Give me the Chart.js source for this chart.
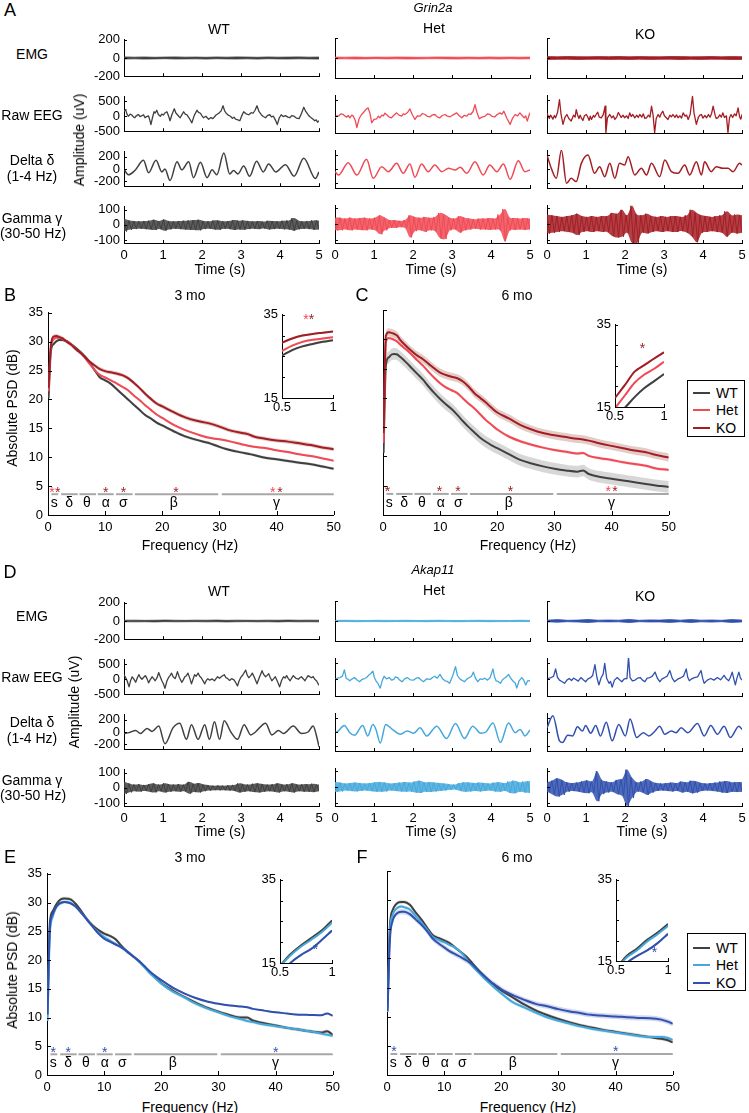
<!DOCTYPE html>
<html><head><meta charset="utf-8">
<script src="https://cdn.jsdelivr.net/npm/chart.js@4.4.1/dist/chart.umd.min.js"></script>
<style>
body{margin:0;background:#fff;}
#fig{position:relative;width:749px;height:1113px;overflow:hidden;background:#fff;font-family:"Liberation Sans",Arial,sans-serif;color:#000;}
.t{position:absolute;transform:translate(-50%,-50%);white-space:nowrap;line-height:1;}
canvas{position:absolute;}
.lg{position:absolute;border:1px solid #000;background:#fff;box-sizing:border-box;}
.lg .ln{position:absolute;height:2px;width:17px;}
.lg .tx{position:absolute;font-size:14px;line-height:1;transform:translateY(-50%);}
</style></head><body><div id="fig"></div><script>
// ===================== DATA =====================
const traceTicksX = [0,1,2,3,4,5];
const emgTicks = [-200,0,200];
const eegTicks = [-500,0,500];
const deltaTicks = [-200,0,200];
const gammaTicks = [-100,0,100];

// Grin2a raw EEG [t s, uV]
const grinWT_eeg = [[0,150],[0.03,220],[0.05,180],[0.08,60],[0.11,0],[0.14,40],[0.16,70],[0.2,40],[0.24,-20],[0.28,-50],[0.31,10],[0.33,30],[0.37,60],[0.41,-10],[0.45,10],[0.5,50],[0.54,-50],[0.58,-10],[0.63,10],[0.66,-120],[0.69,-280],[0.73,-50],[0.77,150],[0.8,110],[0.84,200],[0.88,60],[0.93,0],[0.97,70],[1.01,40],[1.05,110],[1.1,150],[1.14,20],[1.18,-150],[1.23,60],[1.29,250],[1.33,110],[1.37,50],[1.41,-10],[1.44,-50],[1.49,60],[1.53,150],[1.57,70],[1.61,50],[1.67,-60],[1.74,-220],[1.8,20],[1.87,200],[1.91,130],[1.96,100],[2.0,10],[2.04,-50],[2.1,0],[2.14,-60],[2.17,-100],[2.23,-40],[2.27,-80],[2.3,-50],[2.36,40],[2.43,100],[2.49,180],[2.54,350],[2.58,180],[2.62,100],[2.67,40],[2.73,0],[2.78,-70],[2.82,-30],[2.86,-100],[2.92,-120],[2.97,-150],[3.02,20],[3.07,150],[3.13,80],[3.2,50],[3.26,120],[3.31,100],[3.36,200],[3.41,350],[3.46,160],[3.52,50],[3.57,-10],[3.63,-50],[3.68,30],[3.74,50],[3.78,-20],[3.83,0],[3.88,-120],[3.93,-280],[3.98,-60],[4.03,50],[4.08,-10],[4.14,20],[4.2,-30],[4.25,-50],[4.3,20],[4.36,0],[4.42,-60],[4.49,-80],[4.55,90],[4.61,300],[4.66,160],[4.72,50],[4.76,-10],[4.8,-50],[4.85,-100],[4.89,-150],[4.93,-120],[4.96,-200],[5,-150]];
const grinHet_eeg = [[0,-40],[0.04,20],[0.1,20],[0.15,80],[0.21,60],[0.26,10],[0.3,-20],[0.34,30],[0.38,-40],[0.43,40],[0.47,10],[0.52,-120],[0.56,-340],[0.62,-60],[0.68,60],[0.73,120],[0.79,210],[0.85,260],[0.9,80],[0.94,-190],[1.0,-90],[1.07,-70],[1.11,10],[1.15,-40],[1.2,40],[1.24,20],[1.28,100],[1.32,60],[1.38,-10],[1.45,-40],[1.51,40],[1.58,110],[1.64,40],[1.71,10],[1.75,80],[1.79,60],[1.86,120],[1.92,230],[1.98,60],[2.05,-90],[2.11,20],[2.18,10],[2.24,90],[2.31,60],[2.37,0],[2.44,-10],[2.5,50],[2.56,60],[2.63,-20],[2.69,-40],[2.75,30],[2.82,60],[2.88,10],[2.95,-10],[3.03,50],[3.12,110],[3.18,30],[3.25,-40],[3.31,30],[3.38,10],[3.43,80],[3.48,60],[3.54,150],[3.59,360],[3.64,120],[3.7,-70],[3.77,-20],[3.85,10],[3.91,80],[3.97,60],[4.03,0],[4.1,-10],[4.16,60],[4.23,110],[4.28,70],[4.33,160],[4.41,-60],[4.49,-240],[4.55,-60],[4.62,60],[4.68,20],[4.74,110],[4.8,30],[4.85,-40],[4.89,20],[4.93,-140],[4.97,20],[5,110]];
const grinKO_eeg = [[0,110],[0.03,10],[0.06,-60],[0.09,40],[0.11,10],[0.15,-80],[0.19,30],[0.22,-40],[0.27,120],[0.32,510],[0.36,60],[0.41,-240],[0.46,-30],[0.51,60],[0.56,-60],[0.62,-140],[0.68,40],[0.72,-20],[0.75,210],[0.79,20],[0.82,-60],[0.85,40],[0.88,-40],[0.92,-120],[0.96,20],[1.01,60],[1.05,-30],[1.08,-120],[1.11,10],[1.14,-90],[1.19,30],[1.22,-20],[1.26,60],[1.3,130],[1.34,-20],[1.39,-40],[1.44,50],[1.49,310],[1.51,-490],[1.55,-40],[1.61,60],[1.66,-40],[1.7,20],[1.74,-90],[1.79,-10],[1.83,120],[1.86,60],[1.9,-30],[1.95,40],[1.99,-40],[2.04,20],[2.08,-60],[2.12,110],[2.16,0],[2.2,60],[2.25,-40],[2.3,40],[2.34,-30],[2.38,60],[2.43,-20],[2.47,80],[2.51,-60],[2.55,-40],[2.6,40],[2.64,-20],[2.68,310],[2.72,40],[2.76,-490],[2.8,-60],[2.85,60],[2.89,-20],[2.93,90],[2.97,160],[3.01,20],[3.06,-40],[3.1,-90],[3.15,40],[3.19,-10],[3.23,60],[3.28,-30],[3.32,50],[3.36,-40],[3.41,20],[3.45,-50],[3.49,110],[3.54,10],[3.58,40],[3.62,-90],[3.67,60],[3.73,610],[3.77,100],[3.83,-240],[3.88,-30],[3.92,40],[3.96,60],[4.0,-50],[4.05,30],[4.09,-40],[4.14,60],[4.18,-20],[4.22,90],[4.26,310],[4.31,40],[4.34,-60],[4.38,-40],[4.43,50],[4.47,-20],[4.51,110],[4.55,-30],[4.6,20],[4.64,-490],[4.68,-40],[4.72,60],[4.76,-30],[4.81,80],[4.85,20],[4.9,260],[4.94,-20],[4.97,-80],[5,60]];
// Grin2a delta-filtered [t s, uV]
const grinWT_delta = [[0,0],[0.11,-94],[0.28,-24],[0.5,141],[0.63,-61],[0.82,141],[0.97,-47],[1.05,0],[1.18,-188],[1.36,118],[1.48,-14],[1.66,118],[1.78,-141],[1.96,108],[2.13,-141],[2.26,-14],[2.38,-94],[2.56,259],[2.71,-80],[2.81,-24],[2.92,-80],[3.07,47],[3.22,-118],[3.4,127],[3.57,-47],[3.71,80],[3.89,-47],[4.14,71],[4.36,-118],[4.61,174],[4.91,-155],[5,-47]];
const grinHet_delta = [[0,-39],[0.09,-88],[0.34,93],[0.56,-88],[0.81,142],[0.98,-137],[1.2,34],[1.37,-39],[1.58,83],[1.75,-64],[1.92,74],[2.05,-122],[2.22,74],[2.39,-39],[2.56,59],[2.74,-39],[2.91,10],[3.08,-15],[3.21,25],[3.38,-64],[3.59,108],[3.8,-88],[3.97,59],[4.15,-39],[4.32,74],[4.49,-152],[4.7,122],[4.87,-39],[5,-15]];
const grinKO_delta = [[0,206],[0.11,10],[0.24,-137],[0.37,279],[0.5,-211],[0.62,-137],[0.75,-186],[0.88,83],[1.05,206],[1.22,-64],[1.35,34],[1.48,-113],[1.61,83],[1.74,-137],[1.86,83],[1.99,59],[2.08,181],[2.25,-88],[2.42,10],[2.55,-88],[2.68,83],[2.89,-113],[3.02,132],[3.19,-39],[3.36,-64],[3.53,59],[3.66,-88],[3.83,108],[3.96,-88],[4.04,108],[4.21,-39],[4.34,34],[4.51,10],[4.64,10],[4.77,-39],[4.94,83],[5,59]];
// Grin2a EMG envelope (upper / lower, uV, evenly spaced over 0-5 s)
const grinWT_emgHi = [12,9,11,8,10,12,9,10,8,11,9,12,10,8,11,9,10,12,9,10];
const grinWT_emgLo = [-11,-9,-12,-10,-8,-11,-10,-9,-12,-8,-10,-11,-9,-12,-8,-10,-11,-9,-10,-12];
const grinHet_emgHi = [9,8,10,7,9,8,10,9,7,8,10,9,8,9,7,10,8,9,8,9];
const grinHet_emgLo = [-9,-8,-10,-9,-7,-9,-8,-10,-9,-8,-7,-9,-10,-8,-9,-8,-10,-7,-9,-8];
const grinKO_emgHi = [14,12,15,13,12,14,13,15,12,14,13,12,15,14,12,13,15,12,14,13];
const grinKO_emgLo = [-14,-13,-12,-15,-13,-12,-14,-13,-15,-12,-14,-13,-12,-15,-13,-14,-12,-13,-15,-14];
// Grin2a gamma envelope (upper / lower peaks, uV, evenly spaced over 0-5 s)
const grinWT_gHi = [40,30,26,24,26,28,34,26,36,26,24,26,28,30,32,34,26,24,30,29,24,26,32,28,30,26,24,26,22,28,26,24,28,30,45,28,24,26,30,28];
const grinWT_gLo = [-44,-32,-28,-26,-28,-30,-34,-28,-38,-30,-26,-28,-30,-32,-34,-36,-28,-26,-30,-32,-26,-28,-34,-30,-32,-28,-26,-28,-24,-30,-28,-26,-29,-31,-38,-29,-26,-28,-32,-30];
const grinHet_gHi = [40,40,35,40,35,38,40,35,40,55,40,25,25,20,25,55,45,40,45,40,45,70,60,40,35,50,40,35,30,35,35,38,35,60,95,40,38,35,38,35];
const grinHet_gLo = [-40,-40,-35,-40,-35,-38,-40,-35,-40,-65,-40,-25,-25,-20,-25,-85,-45,-40,-50,-40,-45,-90,-95,-40,-35,-55,-40,-35,-30,-35,-35,-38,-35,-40,-110,-40,-38,-35,-38,-35];
const grinKO_gHi = [60,55,50,45,50,55,65,50,45,50,45,50,50,70,65,90,55,115,60,55,65,50,45,50,45,50,50,45,55,90,70,55,50,45,50,55,80,55,60,55];
const grinKO_gLo = [-60,-55,-50,-45,-50,-55,-70,-50,-45,-50,-45,-50,-50,-75,-85,-80,-55,-120,-120,-55,-60,-50,-45,-50,-45,-50,-50,-45,-55,-80,-115,-55,-50,-45,-50,-55,-80,-55,-60,-55];

// Akap11 raw EEG [t s, uV]
const akapWT_eeg = [[0,153],[0.04,60],[0.08,-51],[0.13,-255],[0.17,-40],[0.21,82],[0.25,10],[0.3,-102],[0.34,40],[0.38,153],[0.42,60],[0.46,0],[0.5,60],[0.55,122],[0.59,20],[0.63,-122],[0.67,-20],[0.72,82],[0.76,20],[0.8,-51],[0.85,60],[0.89,224],[0.93,80],[0.97,-51],[1.01,-150],[1.05,-306],[1.1,-60],[1.14,51],[1.18,120],[1.22,204],[1.26,80],[1.31,20],[1.34,120],[1.37,255],[1.42,60],[1.48,-102],[1.52,-20],[1.56,82],[1.6,120],[1.64,204],[1.69,20],[1.73,-153],[1.77,0],[1.81,153],[1.85,100],[1.9,204],[1.94,100],[1.98,51],[2.02,-40],[2.07,-153],[2.11,-40],[2.15,20],[2.2,-30],[2.26,10],[2.32,-51],[2.36,20],[2.4,82],[2.45,30],[2.5,90],[2.57,153],[2.61,60],[2.66,20],[2.71,-40],[2.76,20],[2.82,-20],[2.86,-100],[2.91,-224],[2.95,-60],[2.99,51],[3.05,150],[3.12,306],[3.16,140],[3.2,51],[3.25,120],[3.29,204],[3.35,40],[3.41,-153],[3.47,60],[3.54,286],[3.58,160],[3.63,82],[3.67,130],[3.71,184],[3.75,60],[3.79,-51],[3.84,20],[3.88,82],[3.93,-60],[3.99,-255],[4.04,-40],[4.09,82],[4.13,40],[4.17,122],[4.21,30],[4.26,-51],[4.3,40],[4.34,122],[4.4,40],[4.47,0],[4.51,50],[4.55,82],[4.6,10],[4.64,-51],[4.68,40],[4.72,122],[4.77,80],[4.81,51],[4.85,90],[4.89,0],[4.94,-60],[5,-204]];
const akapHet_eeg = [[0,0],[0.06,40],[0.13,58],[0.19,100],[0.24,291],[0.29,29],[0.33,10],[0.38,-39],[0.44,20],[0.5,58],[0.56,-10],[0.63,-68],[0.69,0],[0.76,29],[0.81,60],[0.86,126],[0.92,180],[0.97,252],[1.01,60],[1.05,-39],[1.1,-120],[1.16,-262],[1.21,-40],[1.26,97],[1.32,20],[1.39,58],[1.45,-20],[1.51,0],[1.55,80],[1.6,58],[1.66,-20],[1.72,-68],[1.78,10],[1.85,58],[1.93,-10],[2.02,-19],[2.08,40],[2.14,58],[2.2,-10],[2.27,-68],[2.35,20],[2.44,0],[2.5,60],[2.56,97],[2.62,40],[2.69,155],[2.76,20],[2.82,-39],[2.88,-60],[2.94,-116],[3.02,120],[3.09,388],[3.14,120],[3.19,29],[3.25,-20],[3.32,-68],[3.38,10],[3.45,58],[3.5,100],[3.55,223],[3.6,40],[3.66,-68],[3.72,20],[3.78,0],[3.84,40],[3.91,-19],[3.98,60],[4.05,320],[4.09,80],[4.13,-39],[4.18,-60],[4.24,-116],[4.3,0],[4.37,58],[4.41,100],[4.45,155],[4.51,30],[4.58,-68],[4.62,-100],[4.66,-262],[4.72,-40],[4.79,58],[4.84,-20],[4.89,-165],[4.94,-40],[5,-39]];
const akapKO_eeg = [[0,-19],[0.05,40],[0.11,58],[0.17,100],[0.22,320],[0.27,60],[0.32,-19],[0.38,-60],[0.45,-116],[0.51,-20],[0.57,29],[0.63,-30],[0.68,40],[0.74,0],[0.8,-50],[0.87,58],[0.93,-10],[0.99,-68],[1.05,20],[1.12,58],[1.17,120],[1.23,446],[1.28,60],[1.33,-165],[1.39,60],[1.44,160],[1.48,485],[1.53,40],[1.59,-116],[1.63,-60],[1.67,-233],[1.73,-20],[1.8,58],[1.86,-10],[1.92,-68],[1.98,20],[2.05,29],[2.09,679],[2.13,58],[2.19,-40],[2.26,-19],[2.32,40],[2.39,58],[2.45,-20],[2.51,-68],[2.57,40],[2.64,58],[2.7,100],[2.77,223],[2.83,40],[2.89,-68],[2.95,20],[3.02,58],[3.08,100],[3.15,272],[3.21,40],[3.27,-68],[3.35,10],[3.44,58],[3.5,100],[3.57,320],[3.61,60],[3.65,-39],[3.71,20],[3.78,58],[3.86,80],[3.95,272],[3.99,40],[4.03,-116],[4.11,-20],[4.2,29],[4.28,-20],[4.37,58],[4.45,-10],[4.54,126],[4.6,20],[4.66,-39],[4.7,60],[4.75,223],[4.79,20],[4.83,-165],[4.87,40],[4.92,223],[4.96,40],[5,-19]];
// Akap11 delta-filtered [t s, uV]
const akapWT_delta = [[0,-24],[0.13,-10],[0.3,24],[0.42,-24],[0.59,58],[0.72,10],[0.89,96],[1.05,-192],[1.26,72],[1.43,144],[1.6,-120],[1.73,120],[1.9,-120],[2.07,120],[2.19,-120],[2.32,168],[2.45,-120],[2.57,182],[2.74,0],[2.91,-120],[3.08,120],[3.25,-48],[3.37,0],[3.63,144],[3.79,-48],[3.96,24],[4.09,-24],[4.34,96],[4.55,-24],[4.72,0],[4.85,96],[4.93,-48],[5,-240]];
const akapHet_delta = [[0,-10],[0.08,14],[0.24,96],[0.38,-10],[0.5,-48],[0.71,96],[0.84,-58],[0.97,110],[1.05,38],[1.16,-163],[1.3,110],[1.47,38],[1.68,-34],[1.85,14],[2.02,-19],[2.18,62],[2.35,-58],[2.61,86],[2.86,-96],[3.09,125],[3.32,-96],[3.53,86],[3.74,-19],[3.87,0],[4.05,134],[4.24,-154],[4.45,134],[4.62,-10],[4.75,38],[4.87,-58],[5,29]];
const akapKO_delta = [[0,62],[0.15,240],[0.32,-130],[0.4,-154],[0.53,-48],[0.66,-58],[0.78,77],[0.91,14],[0.99,96],[1.12,-19],[1.25,96],[1.37,-58],[1.52,144],[1.67,-130],[1.84,110],[2.01,-58],[2.13,192],[2.3,-82],[2.47,-10],[2.61,-58],[2.77,14],[2.89,86],[3.02,-34],[3.19,14],[3.31,-10],[3.44,62],[3.61,-10],[3.86,125],[4.03,-58],[4.2,96],[4.37,-34],[4.54,86],[4.7,-82],[4.92,86],[5,38]];
// Akap11 EMG envelope
const akapWT_emgHi = [8,9,7,8,10,8,7,9,8,10,7,9,8,7,9,8,10,8,9,8];
const akapWT_emgLo = [-8,-9,-8,-10,-7,-9,-8,-7,-9,-8,-10,-8,-7,-9,-8,-10,-7,-9,-8,-9];
const akapHet_emgHi = [6,7,6,5,7,6,6,7,5,6,7,6,5,6,7,6,6,5,7,6];
const akapHet_emgLo = [-6,-5,-7,-6,-6,-7,-5,-6,-6,-7,-5,-6,-7,-6,-5,-7,-6,-6,-5,-6];
const akapKO_emgHi = [8,14,7,9,15,8,10,8,16,7,11,9,14,8,15,8,10,7,14,9];
const akapKO_emgLo = [-8,-12,-7,-10,-15,-8,-9,-8,-16,-7,-10,-9,-14,-8,-15,-8,-11,-7,-14,-9];
// Akap11 gamma envelope
const akapWT_gHi = [40,30,22,25,20,25,30,22,30,25,22,25,22,40,28,32,22,18,15,16,15,18,20,30,25,22,28,30,25,22,25,30,22,25,30,22,25,25,28,22];
const akapWT_gLo = [-40,-30,-22,-25,-20,-25,-30,-22,-30,-25,-22,-25,-22,-38,-28,-30,-22,-18,-15,-16,-15,-18,-20,-30,-25,-22,-28,-30,-25,-22,-25,-30,-22,-25,-30,-22,-25,-25,-28,-22];
const akapHet_gHi = [32,28,22,25,28,25,22,25,30,32,28,22,25,28,32,28,35,40,30,32,28,25,22,18,16,25,30,28,25,28,25,22,28,30,25,35,40,30,35,38];
const akapHet_gLo = [-32,-28,-22,-25,-28,-25,-22,-25,-30,-30,-28,-22,-25,-28,-30,-28,-35,-38,-30,-32,-28,-25,-22,-18,-16,-25,-30,-28,-25,-28,-25,-22,-28,-30,-25,-38,-40,-30,-35,-38];
const akapKO_gHi = [30,40,55,45,30,25,28,35,42,35,100,45,35,30,45,50,110,60,30,35,50,35,25,22,25,28,25,35,30,40,35,25,22,25,28,35,38,30,32,30];
const akapKO_gLo = [-30,-45,-60,-50,-30,-25,-28,-35,-40,-35,-90,-45,-35,-30,-45,-55,-120,-70,-30,-35,-50,-35,-25,-22,-25,-28,-25,-35,-30,-40,-35,-25,-22,-25,-28,-35,-38,-30,-32,-30];

// PSD spectra (Hz, dB)
const freq = [0.1,0.5,1,1.5,2,2.5,3,4,5,6,7,8,9,10,11,12,13,14,15,16,17,18,19,20,22,24,26,28,30,32,34,35,36,38,40,42,44,46,48,49,50];
const psdTicksX = [0,10,20,30,40,50];
const psdTicksY = [0,5,10,15,20,25,30,35];
const B_WT  = [20.2,28.3,29.6,30.1,30.3,30.3,30.2,29.6,28.8,27.9,26.8,25.3,23.9,23.3,22.7,21.8,20.9,20.0,19.1,18.2,17.3,16.7,16.0,15.5,14.5,13.6,13.0,12.5,11.8,11.2,10.8,10.6,10.4,9.9,9.65,9.35,9.05,8.8,8.4,8.2,8.0];
const B_Het = [21.4,29.0,30.4,30.7,30.7,30.5,30.2,29.6,28.6,27.8,26.5,25.3,24.3,23.8,23.3,22.8,22.2,21.6,20.7,19.9,19.0,18.2,17.4,16.8,15.6,14.7,14.0,13.4,13.1,12.7,12.2,12.0,11.8,11.6,11.2,10.9,10.5,10.2,9.8,9.6,9.4];
const B_KO  = [22.0,29.3,30.9,31.0,30.8,30.6,30.2,29.5,28.6,27.8,26.8,26.0,25.3,24.9,24.7,24.5,24.2,23.7,22.9,22.0,21.0,20.1,19.3,18.8,17.8,16.9,16.3,15.9,15.3,14.6,14.2,14.0,13.6,13.2,12.9,12.7,12.4,12.1,11.7,11.55,11.4];
const C_WT  = [10.6,25.5,26.9,27.4,27.5,27.4,27.0,26.1,25.1,24.1,23.1,21.9,20.8,19.8,18.9,18.1,17.1,16.0,15.0,14.1,13.2,12.5,11.9,11.4,10.4,9.4,8.8,8.3,7.9,7.6,7.4,7.6,7.0,6.5,6.2,5.9,5.6,5.3,5.0,4.9,4.8];
const C_Het = [12.3,29.5,30.2,30.1,29.9,29.6,29.1,28.3,27.4,26.4,25.5,24.4,23.4,22.5,21.8,21.3,20.8,19.9,19.0,18.2,17.2,16.2,15.4,14.6,13.4,12.6,12.0,11.5,11.1,10.8,10.5,10.6,10.1,9.7,9.4,9.0,8.7,8.4,7.9,7.8,7.7];
const C_KO  = [14.0,30.6,31.2,31.1,30.9,30.6,29.9,28.9,28.0,27.2,26.6,25.8,25.0,24.3,23.9,23.6,23.35,22.8,21.9,20.8,20.0,19.2,18.3,17.5,16.5,15.4,14.6,14.0,13.6,13.3,13.0,12.9,12.7,12.2,11.8,11.4,11.0,10.7,10.2,10.0,9.8];
const E_WT  = [11.7,26.5,28.5,29.5,30.2,30.6,30.7,30.6,29.8,28.5,27.1,26.0,25.2,24.6,24.2,23.6,22.5,21.5,20.7,19.9,18.9,17.9,16.9,16.0,14.7,13.6,12.6,11.7,11.0,10.4,10.0,10.0,9.5,9.0,8.6,8.2,7.9,7.6,7.4,7.6,7.0];
const E_Het = [9.4,24.5,27.5,28.9,29.6,29.9,30.1,30.0,29.3,28.2,27.0,25.8,24.8,24.0,23.4,22.8,22.2,21.5,20.7,19.8,18.8,17.7,16.8,15.9,14.5,13.5,12.4,11.6,10.9,10.2,9.7,9.4,9.2,8.8,8.5,8.2,7.9,7.6,7.2,7.0,6.8];
const E_KO  = [10.5,25.5,28.0,29.1,29.7,30.0,30.1,29.9,29.3,28.2,27.0,25.8,24.6,23.7,23.2,22.7,22.2,21.5,20.7,19.9,19.0,18.0,17.2,16.5,15.2,14.2,13.4,12.8,12.4,12.1,11.9,11.8,11.5,11.2,10.9,10.7,10.5,10.45,10.4,10.7,10.3];
const F_WT  = [11.7,25.5,28.3,29.2,29.6,29.7,29.7,29.2,27.9,26.7,25.3,24.0,23.5,23.1,22.6,21.8,21.0,20.2,19.1,18.0,17.0,16.1,15.2,14.5,13.3,12.1,11.1,10.3,9.6,9.0,8.5,8.3,8.1,7.7,7.4,7.1,6.8,6.5,6.2,6.0,5.6];
const F_Het = [10.8,24.5,27.5,28.4,28.8,28.9,28.8,28.4,27.3,26.2,25.0,23.7,23.2,22.8,22.3,21.8,21.0,19.8,18.6,17.6,16.6,15.7,14.8,14.0,12.5,11.6,10.7,9.9,9.3,8.8,8.3,8.1,7.9,7.6,7.3,7.0,6.7,6.5,6.5,6.4,6.0];
const F_KO  = [11.0,23.0,26.5,27.5,27.9,28.0,28.0,27.6,26.7,25.8,24.7,23.4,22.6,21.9,21.2,20.7,20.2,19.6,18.9,17.9,17.0,16.1,15.4,14.7,13.7,12.9,12.2,11.8,11.3,10.9,10.6,10.4,10.3,10.15,10.05,9.9,9.8,9.75,9.5,9.2,8.8];
const semB = [0.25,0.2,0.35];
const semC = [1.0,0.25,0.7];
const semE = [0.3,0.3,0.15];
const semF = [0.3,0.3,0.45];
const semInset = [0.25,0.25,0.25];
const freqIn = [0.5,0.6,0.7,0.8,0.9,1.0];
const insetTicksX = [0.5,1];
const insetTicksY = [15,20,25,30,35];
const Bi_WT = [25.2,26.5,27.4,28.0,28.5,28.9], Bi_Het = [26.3,27.6,28.5,29.0,29.3,29.6], Bi_KO = [28.3,29.3,30.0,30.4,30.7,31.0];
const Ci_WT = [12.5,14.8,17.4,19.6,21.3,23.0], Ci_Het = [14.7,17.8,20.9,22.9,24.3,26.0], Ci_KO = [17.2,20.3,23.6,25.2,26.8,28.3];
const Ei_WT = [14.3,17.1,19.2,21.0,22.8,25.2], Ei_Het = [14.2,16.8,18.9,20.6,22.4,24.7], Ei_KO = [12.0,15.0,16.9,18.4,20.5,22.8];
const Fi_WT = [13.0,16.2,18.0,20.2,22.0,24.1], Fi_Het = [12.8,15.8,17.6,19.8,21.6,23.6], Fi_KO = [12.0,14.5,16.2,17.6,19.4,21.7];
const bandNames = ['s','δ','θ','α','σ','β','γ'];
const bandStart = [0.6,2.3,5.5,8.7,11.9,15.2,30.4];
const bandEnd   = [1.8,5.2,8.4,11.5,14.8,29.8,50];
const bandLabelX = [1.1,3.7,6.8,10.1,13.2,22,40];
const starsB = [[0.7,1],[1.7,2],[10.1,2],[13.2,2],[22.4,2],[39.3,1],[40.6,2]];
const starsC = [[0.8,2],[9.9,2],[13.1,2],[22.3,2],[39.4,1],[40.6,2]];
const starsE = [[1.1,2],[3.7,2],[10.1,2],[40.0,2]];
const starsF = [[1.2,2],[40.0,2]];
const starsBi = [[0.735,33.6,1],[0.79,33.6,2]];
const starsCi = [[0.78,29.0,2]];
const starsEi = [[0.84,18.0,2]];
const starsFi = [[0.87,17.0,2]];
const genotypes = ['WT','Het','KO'];

// ===================== STYLE / LAYOUT =====================
const FONT = "'Liberation Sans', Arial, sans-serif";
const GREY = '#404040';
const grinCols = [GREY,'#f04a55','#a31d24'];
const akapCols = [GREY,'#45a8dc','#3050ae'];
const grinFill = ['rgba(140,140,140,0.35)','rgba(240,74,85,0.22)','rgba(175,110,95,0.35)'];
const akapFill = ['rgba(140,140,140,0.35)','rgba(69,168,220,0.25)','rgba(110,125,200,0.3)'];
const fig = document.getElementById('fig');
Chart.defaults.font.family = FONT;
Chart.defaults.color = '#000';
function withAlpha(hex,a){const n=parseInt(hex.slice(1),16);return `rgba(${n>>16},${(n>>8)&255},${n&255},${a})`;}

function txt(x,y,s,size,o={}){
  const d=document.createElement('div'); d.className='t';
  d.style.left=x+'px'; d.style.top=y+'px'; d.style.fontSize=size+'px';
  if(o.italic) d.style.fontStyle='italic';
  if(o.rot) d.style.transform='translate(-50%,-50%) rotate(-90deg)';
  d.textContent=s; fig.appendChild(d);
}
function mkCanvas(box,pad){
  const c=document.createElement('canvas');
  const W=box.w+pad.l+pad.r, H=box.h+pad.t+pad.b;
  c.width=W; c.height=H;
  Object.assign(c.style,{left:(box.x-pad.l)+'px',top:(box.y-pad.t)+'px',width:W+'px',height:H+'px'});
  fig.appendChild(c); return c;
}
function axis(min,max,ticks,show,size,padding,fit,labelFn){
  return {type:'linear',min,max,
    afterBuildTicks:s=>{s.ticks=ticks.map(v=>({value:v}));},
    afterFit:fit,
    grid:{display:false,drawTicks:false},
    border:{display:true,color:'#000',width:1},
    ticks:{display:show,padding,color:'#000',font:{size,family:FONT},maxRotation:0,autoSkip:false,
      callback:labelFn||(v=>String(v))}};
}
function tickMarks(len){
  return {id:'tickMarks',afterDraw(chart){
    const ctx=chart.ctx,a=chart.chartArea,xs=chart.scales.x,ys=chart.scales.y;
    ctx.save(); ctx.strokeStyle='#000'; ctx.lineWidth=1; ctx.beginPath();
    xs.ticks.forEach(t=>{const p=Math.round(xs.getPixelForValue(t.value))+0.5; ctx.moveTo(p,a.bottom); ctx.lineTo(p,a.bottom-len);});
    ys.ticks.forEach(t=>{const p=Math.round(ys.getPixelForValue(t.value))+0.5; ctx.moveTo(a.left,p); ctx.lineTo(a.left+len,p);});
    ctx.stroke(); ctx.restore();
  }};
}
function build(box,pad,datasets,xAx,yAx,plugins){
  const c=mkCanvas(box,pad);
  return new Chart(c.getContext('2d'),{type:'line',data:{datasets},
    options:{responsive:false,animation:false,devicePixelRatio:1,events:[],
      layout:{padding:{top:pad.t,right:pad.r,left:0,bottom:0}},
      plugins:{legend:{display:false},tooltip:{enabled:false}},
      elements:{point:{radius:0},line:{borderJoinStyle:'round'}},
      scales:{x:xAx,y:yAx}},
    plugins});
}

// ---------- trace panels ----------
const COLX=[124,335,547], COLW=195;
const ROWY=[[38,78],[95,133],[150,188],[205,243]];
const ROWRANGE=[[-200,200],[-500,650],[-280,280],[-120,120]];
const ROWTICKS=[emgTicks,eegTicks,deltaTicks,gammaTicks];
// gamma: band between the upper and lower peak envelopes plus the zig-zag oscillation through them
function gammaDatasets(hi,lo,col){
  const n=hi.length, zig=[];
  hi.forEach((v,i)=>{zig.push({x:(2*i)*5/(2*n-1),y:v}); zig.push({x:(2*i+1)*5/(2*n-1),y:lo[i]});});
  return [
    {data:lo.map((v,i)=>({x:i*5/(n-1),y:v})),borderWidth:0,borderColor:'rgba(0,0,0,0)',fill:false,tension:0.3},
    {data:hi.map((v,i)=>({x:i*5/(n-1),y:v})),borderWidth:0,borderColor:'rgba(0,0,0,0)',fill:'-1',backgroundColor:withAlpha(col,0.85),tension:0.3},
    {data:zig,borderColor:col,borderWidth:1,fill:false,tension:0}
  ];
}
function emgDatasets(hi,lo,col){
  const n=hi.length;
  return [
    {data:lo.map((v,i)=>({x:i*5/(n-1),y:v})),borderColor:col,borderWidth:0.8,fill:false,tension:0},
    {data:hi.map((v,i)=>({x:i*5/(n-1),y:v})),borderColor:col,borderWidth:0.8,fill:'-1',backgroundColor:col,tension:0}
  ];
}
function traceChart(col,row,dy,datasets){
  const [t,b]=ROWY[row];
  const box={x:COLX[col],y:t+dy,w:COLW,h:b-t};
  const showY=col===0, showX=row===3;
  const pad={l:showY?44:10,t:10,r:10,b:showX?26:10};
  const xAx=axis(0,5,traceTicksX,showX,13,5,s=>{s.height=pad.b;});
  const yAx=axis(ROWRANGE[row][0],ROWRANGE[row][1],ROWTICKS[row],showY,13,4,s=>{s.width=pad.l;});
  build(box,pad,datasets,xAx,yAx,[tickMarks(3)]);
}
function lineDs(arr,col,w,smooth){
  return {data:arr.map(p=>({x:p[0],y:p[1]})),borderColor:col,borderWidth:w,fill:false,tension:0,
    cubicInterpolationMode:smooth?'monotone':'default'};
}
function traceHalf(dy,cols,emg,eeg,delta,gam){
  for(let c=0;c<3;c++){
    traceChart(c,0,dy,emgDatasets(emg[c][0],emg[c][1],cols[c]));
    traceChart(c,1,dy,[lineDs(eeg[c],cols[c],1.3,false)]);
    traceChart(c,2,dy,[lineDs(delta[c],cols[c],1.5,true)]);
    traceChart(c,3,dy,gammaDatasets(gam[c][0],gam[c][1],cols[c]));
  }
}
traceHalf(0,grinCols,
  [[grinWT_emgHi,grinWT_emgLo],[grinHet_emgHi,grinHet_emgLo],[grinKO_emgHi,grinKO_emgLo]],
  [grinWT_eeg,grinHet_eeg,grinKO_eeg],[grinWT_delta,grinHet_delta,grinKO_delta],
  [[grinWT_gHi,grinWT_gLo],[grinHet_gHi,grinHet_gLo],[grinKO_gHi,grinKO_gLo]]);
traceHalf(563,akapCols,
  [[akapWT_emgHi,akapWT_emgLo],[akapHet_emgHi,akapHet_emgLo],[akapKO_emgHi,akapKO_emgLo]],
  [akapWT_eeg,akapHet_eeg,akapKO_eeg],[akapWT_delta,akapHet_delta,akapKO_delta],
  [[akapWT_gHi,akapWT_gLo],[akapHet_gHi,akapHet_gLo],[akapKO_gHi,akapKO_gLo]]);

// ---------- PSD panels ----------
const BAND_Y=3.6, LABEL_Y=2.0, STAR_Y=3.85;
function psdMarks(stars,cols){
  return {id:'psdMarks',afterDatasetsDraw(chart){
    const ctx=chart.ctx,xs=chart.scales.x,ys=chart.scales.y;
    ctx.save(); ctx.strokeStyle='#a8a8a8'; ctx.lineWidth=2;
    const yb=ys.getPixelForValue(BAND_Y);
    bandStart.forEach((s,i)=>{ctx.beginPath();ctx.moveTo(xs.getPixelForValue(s),yb);ctx.lineTo(xs.getPixelForValue(bandEnd[i]),yb);ctx.stroke();});
    ctx.fillStyle='#000'; ctx.font='14px '+FONT; ctx.textAlign='center'; ctx.textBaseline='middle';
    bandNames.forEach((n,i)=>ctx.fillText(n,xs.getPixelForValue(bandLabelX[i]),ys.getPixelForValue(LABEL_Y)));
    stars.forEach(s=>{ctx.fillStyle=cols[s[1]];ctx.fillText('*',xs.getPixelForValue(s[0]),ys.getPixelForValue(STAR_Y));});
    ctx.restore();
  }};
}
function insetStars(stars,cols){
  return {id:'insetStars',afterDatasetsDraw(chart){
    const ctx=chart.ctx,xs=chart.scales.x,ys=chart.scales.y;
    ctx.save(); ctx.font='14px '+FONT; ctx.textAlign='center'; ctx.textBaseline='middle';
    stars.forEach(s=>{ctx.fillStyle=cols[s[2]];ctx.fillText('*',xs.getPixelForValue(s[0]),ys.getPixelForValue(s[1]));});
    ctx.restore();
  }};
}
function psdDatasets(fr,series,sem,cols,fills,lw){
  const ds=[];
  series.forEach((s,i)=>{
    ds.push({data:fr.map((f,k)=>({x:f,y:s[k]-sem[i]})),borderWidth:0,borderColor:'rgba(0,0,0,0)',fill:false,order:10,cubicInterpolationMode:'monotone'});
    ds.push({data:fr.map((f,k)=>({x:f,y:s[k]+sem[i]})),borderWidth:0,borderColor:'rgba(0,0,0,0)',fill:'-1',backgroundColor:fills[i],order:10,cubicInterpolationMode:'monotone'});
  });
  series.forEach((s,i)=>{
    ds.push({data:fr.map((f,k)=>({x:f,y:s[k]})),borderColor:cols[i],borderWidth:lw,fill:false,order:3-i,cubicInterpolationMode:'monotone'});
  });
  return ds;
}
function psdChart(box,showY,series,sem,cols,fills,stars){
  const pad={l:showY?40:10,t:10,r:12,b:24};
  const xAx=axis(0,50,psdTicksX,true,13,5,s=>{s.height=pad.b;});
  const yAx=axis(0,35,psdTicksY,showY,13,5,s=>{s.width=pad.l;});
  build(box,pad,psdDatasets(freq,series,sem,cols,fills,2),xAx,yAx,[tickMarks(4),psdMarks(stars,cols)]);
}
function insetChart(box,series,cols,fills,stars){
  const pad={l:24,t:9,r:8,b:18};
  const xAx=axis(0.5,1,insetTicksX,true,13,2,s=>{s.height=pad.b;});
  const yAx=axis(15,35,insetTicksY,true,13,4,s=>{s.width=pad.l;},v=>(v===15||v===35)?String(v):'');
  build(box,pad,psdDatasets(freqIn,series,semInset,cols,fills,2),xAx,yAx,[tickMarks(3),insetStars(stars,cols)]);
}
psdChart({x:48,y:310,w:286,h:205},true,[B_WT,B_Het,B_KO],semB,grinCols,grinFill,starsB);
psdChart({x:383,y:310,w:286,h:205},false,[C_WT,C_Het,C_KO],semC,grinCols,grinFill,starsC);
psdChart({x:47,y:871,w:286,h:204},true,[E_WT,E_Het,E_KO],semE,akapCols,akapFill,starsE);
psdChart({x:387,y:871,w:286,h:204},false,[F_WT,F_Het,F_KO],semF,akapCols,akapFill,starsF);
insetChart({x:282,y:312,w:51,h:86},[Bi_WT,Bi_Het,Bi_KO],grinCols,grinFill,starsBi);
insetChart({x:615,y:322,w:49,h:85},[Ci_WT,Ci_Het,Ci_KO],grinCols,grinFill,starsCi);
insetChart({x:280,y:877,w:52,h:86},[Ei_WT,Ei_Het,Ei_KO],akapCols,akapFill,starsEi);
insetChart({x:616,y:877,w:52,h:84},[Fi_WT,Fi_Het,Fi_KO],akapCols,akapFill,starsFi);

// ---------- legends ----------
function legendBox(x,y,w,h,rows,cols){
  const d=document.createElement('div'); d.className='lg';
  Object.assign(d.style,{left:x+'px',top:y+'px',width:w+'px',height:h+'px'});
  genotypes.forEach((g,i)=>{
    const l=document.createElement('div'); l.className='ln';
    Object.assign(l.style,{left:'5px',top:(rows[i]-1)+'px',background:cols[i]}); d.appendChild(l);
    const t=document.createElement('div'); t.className='tx';
    Object.assign(t.style,{left:'28px',top:rows[i]+'px'}); t.textContent=g; d.appendChild(t);
  });
  fig.appendChild(d);
}
legendBox(687,380,58,57,[12,29,47],grinCols);
legendBox(687,933,59,58,[14,31,49],akapCols);

// ---------- text ----------
function halfText(dy,gene,letters){
  txt(10,10+dy,letters[0],18);
  txt(433,7+dy,gene,13,{italic:true});
  txt(219,29+dy,'WT',14); txt(434,28+dy,'Het',14); txt(645,34+dy,'KO',14);
  txt(32,54+dy,'EMG',14); txt(32,115+dy,'Raw EEG',14);
  txt(32,160+dy,'Delta δ',14); txt(32,176+dy,'(1-4 Hz)',14);
  txt(32,218+dy,'Gamma γ',14); txt(33,233+dy,'(30-50 Hz)',14);
  txt(dy?74:79,140+dy,'Amplitude (uV)',14,{rot:true});
  txt(220,269+dy,'Time (s)',14); txt(431,269+dy,'Time (s)',14); txt(642,269+dy,'Time (s)',14);
  txt(10,295+dy,letters[1],18); txt(190,295+dy,'3 mo',14);
  txt(362,295+dy,letters[2],18); txt(517,295+dy,'6 mo',14);
  txt(12,408+dy,'Absolute PSD (dB)',14,{rot:true});
  txt(190,545+dy,'Frequency (Hz)',14); txt(528,545+dy,'Frequency (Hz)',14);
}
halfText(0,'Grin2a',['A','B','C']);
halfText(562,'Akap11',['D','E','F']);
</script></body></html>
